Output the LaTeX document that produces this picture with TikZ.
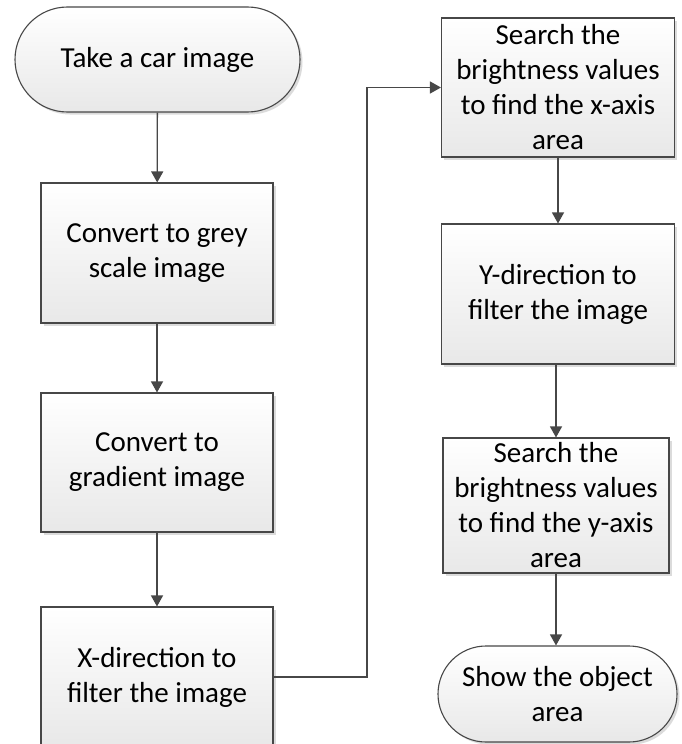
\documentclass[tikz,border=0pt]{standalone}
\usepackage{fontspec}
\setmainfont{Carlito}
\usetikzlibrary{shapes.misc,arrows.meta,shadows}
\definecolor{linecol}{HTML}{474747}
\begin{document}
\begin{tikzpicture}[x=1pt,y=-1pt,
  box/.style={draw=linecol, line width=1.1pt, top color=white, bottom color=black!9,
    align=center, text=black, font=\fontsize{29}{35}\selectfont, inner sep=0pt,
    drop shadow={shadow xshift=2.5pt, shadow yshift=-2.5pt, fill=black!20, opacity=0.7}},
  proc/.style={box, rectangle, minimum width=232pt, minimum height=140pt},
  term/.style={box, rounded rectangle, rounded rectangle arc length=180},
  arr/.style={draw=linecol, line width=1.3pt, -{Triangle[length=11pt,width=12pt]}},
  conn/.style={draw=linecol, line width=1.3pt}]
\useasboundingbox (0,0) rectangle (682,744);
\clip (0,0) rectangle (682,744);

% left column
\node[term, minimum width=285pt, minimum height=105pt] (t1) at (157.5,59.5) {Take a car image};
\node[proc] (b2) at (157,253) {Convert to grey\\scale image};
\node[proc, minimum height=139pt] (b3) at (157,462.5) {Convert to\\gradient image};
\node[proc] (b4) at (157,677) {X-direction to\\filter the image};

% right column
\node[proc, minimum width=233pt, minimum height=139pt] (r1) at (558,87.5) {Search the\\brightness values\\to find the x-axis\\area};
\node[proc, minimum width=233pt] (r2) at (558,294) {Y-direction to\\filter the image};
\node[proc, minimum width=226pt, minimum height=135pt] (r3) at (556,505.5) {Search the\\brightness values\\to find the y-axis\\area};
\node[term, minimum width=239pt, minimum height=96pt] (t2) at (557.5,694) {Show the object\\area};

% connectors
\coordinate (bend) at (367,0);
\draw[arr] (t1) -- (b2);
\draw[arr] (b2) -- (b3);
\draw[arr] (b3) -- (b4);
\draw[arr] (b4.east) -- (b4.east -| bend) |- (r1.west);
\draw[arr] (r1) -- (r2);
\draw[arr] (r2.south -| r3) -- (r3);
\draw[arr] (r3) -- (t2.north -| r3);
\end{tikzpicture}
\end{document}
